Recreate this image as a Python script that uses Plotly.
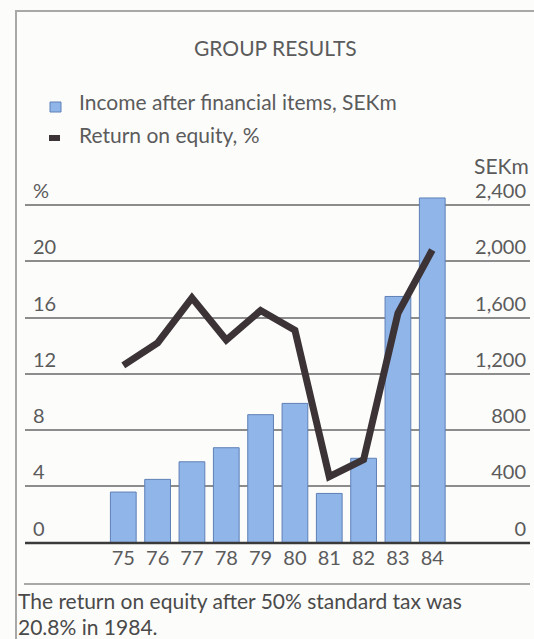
import plotly.graph_objects as go

# Group results 1975-1984
years = [75, 76, 77, 78, 79, 80, 81, 82, 83, 84]
year_labels = ["75", "76", "77", "78", "79", "80", "81", "82", "83", "84"]
income_sekm = [360, 450, 575, 675, 910, 990, 350, 600, 1750, 2450]
return_on_equity = [12.6, 14.2, 17.4, 14.4, 16.5, 15.1, 4.7, 5.9, 16.3, 20.8]

pct_ticks = [0, 4, 8, 12, 16, 20, 24]
pct_labels = ["0", "4", "8", "12", "16", "20", "%"]
sek_ticks = [0, 400, 800, 1200, 1600, 2000, 2400]
sek_labels = ["0", "400", "800", "1,200", "1,600", "2,000", "2,400"]

W, H = 534, 639
FONT = "Lato"
TXT = "#5b5b5b"
BAR = "#90b5e9"
BAR_EDGE = "#5f80b6"
LINE = "#3c3337"
FRAME = "#a8a8a8"
FS = 21


def px(x):
    return x / W


def py(y):
    return 1 - y / H


fig = go.Figure()

# bars on the SEKm axis, line on the % axis drawn above them
fig.add_trace(go.Bar(
    x=years, y=income_sekm, yaxis="y", width=0.75,
    marker=dict(color=BAR, line=dict(color=BAR_EDGE, width=1)),
    name="Income after financial items, SEKm", showlegend=False,
))
fig.add_trace(go.Scatter(
    x=years, y=return_on_equity, yaxis="y2", mode="lines",
    line=dict(color=LINE, width=7),
    name="Return on equity, %", showlegend=False,
))

# 0 sits at y=542.7 px, 24 % (2,400 SEKm) at y=205 px; room is left above for labels
zero_px = 542.7
unit_px = (542.7 - 205) / 24
top_val = 26
x_dom = [px(25), px(530)]
y_dom = [py(zero_px), py(zero_px - top_val * unit_px)]

fig.update_layout(
    width=W, height=H,
    margin=dict(l=0, r=0, t=0, b=0),
    paper_bgcolor="#fcfcfb", plot_bgcolor="rgba(0,0,0,0)",
    font=dict(family=FONT, color=TXT, size=FS),
    xaxis=dict(
        domain=x_dom, range=[72.137, 86.847],
        tickvals=years, ticktext=year_labels,
        showgrid=False, zeroline=False, showline=False, ticks="",
        tickfont=dict(size=20, color=TXT), ticklabelstandoff=1,
    ),
    yaxis=dict(
        domain=y_dom, range=[0, top_val * 100], tickvals=sek_ticks, ticktext=sek_labels,
        side="right",
        showgrid=True, gridcolor="#8c8c8c", gridwidth=1.5,
        zeroline=False, showline=False, ticks="",
        ticklabelposition="inside top", ticklabelstandoff=1,
        tickfont=dict(size=20, color=TXT),
    ),
    yaxis2=dict(
        domain=y_dom, range=[0, top_val], tickvals=pct_ticks, ticktext=pct_labels,
        overlaying="y", side="left", anchor="x",
        showgrid=False, zeroline=False, showline=False, ticks="",
        ticklabelposition="inside top", ticklabelstandoff=5,
        tickfont=dict(size=20, color=TXT),
    ),
)

shapes = [
    # outer frame: left rule and top rule
    dict(type="line", xref="paper", yref="paper", x0=px(16), x1=px(16), y0=py(10), y1=0,
         line=dict(color=FRAME, width=2)),
    dict(type="line", xref="paper", yref="paper", x0=px(16), x1=1, y0=py(11), y1=py(11),
         line=dict(color=FRAME, width=2)),
    # baseline of the chart
    dict(type="line", xref="paper", yref="paper", x0=px(25), x1=px(530), y0=py(543), y1=py(543),
         line=dict(color="#3a3a3a", width=2.5)),
    # rule above the note
    dict(type="line", xref="paper", yref="paper", x0=px(24), x1=px(530), y0=py(584), y1=py(584),
         line=dict(color="#8c8c8c", width=1.5)),
    # legend swatches
    dict(type="rect", xref="paper", yref="paper", x0=px(50), x1=px(61), y0=py(102), y1=py(112),
         fillcolor=BAR, line=dict(color=BAR_EDGE, width=1)),
    dict(type="rect", xref="paper", yref="paper", x0=px(49), x1=px(60), y0=py(135), y1=py(141),
         fillcolor=LINE, line=dict(width=0)),
]
fig.update_layout(shapes=shapes)

NOTE_FS = 20
annotations = [
    dict(text="GROUP RESULTS", x=px(275), y=py(48), xanchor="center", yanchor="middle"),
    dict(text="Income after financial items, SEKm", x=px(78), y=py(101), xanchor="left",
         yanchor="middle"),
    dict(text="Return on equity, %", x=px(78), y=py(134), xanchor="left", yanchor="middle"),
    dict(text="SEKm", x=px(530), y=py(166), xanchor="right", yanchor="middle"),
    dict(text="The return on equity after 50% standard tax was", x=px(17), y=py(600),
         xanchor="left", yanchor="middle", font=dict(size=NOTE_FS + 1, color="#4a4a4a")),
    dict(text="20.8% in 1984.", x=px(17), y=py(626),
         xanchor="left", yanchor="middle", font=dict(size=NOTE_FS + 1, color="#4a4a4a")),
]
for a in annotations:
    a.update(xref="paper", yref="paper", showarrow=False, borderpad=0)
    a.setdefault("font", dict(size=FS, color=TXT))
fig.update_layout(annotations=annotations)

fig.write_html("out.html")
